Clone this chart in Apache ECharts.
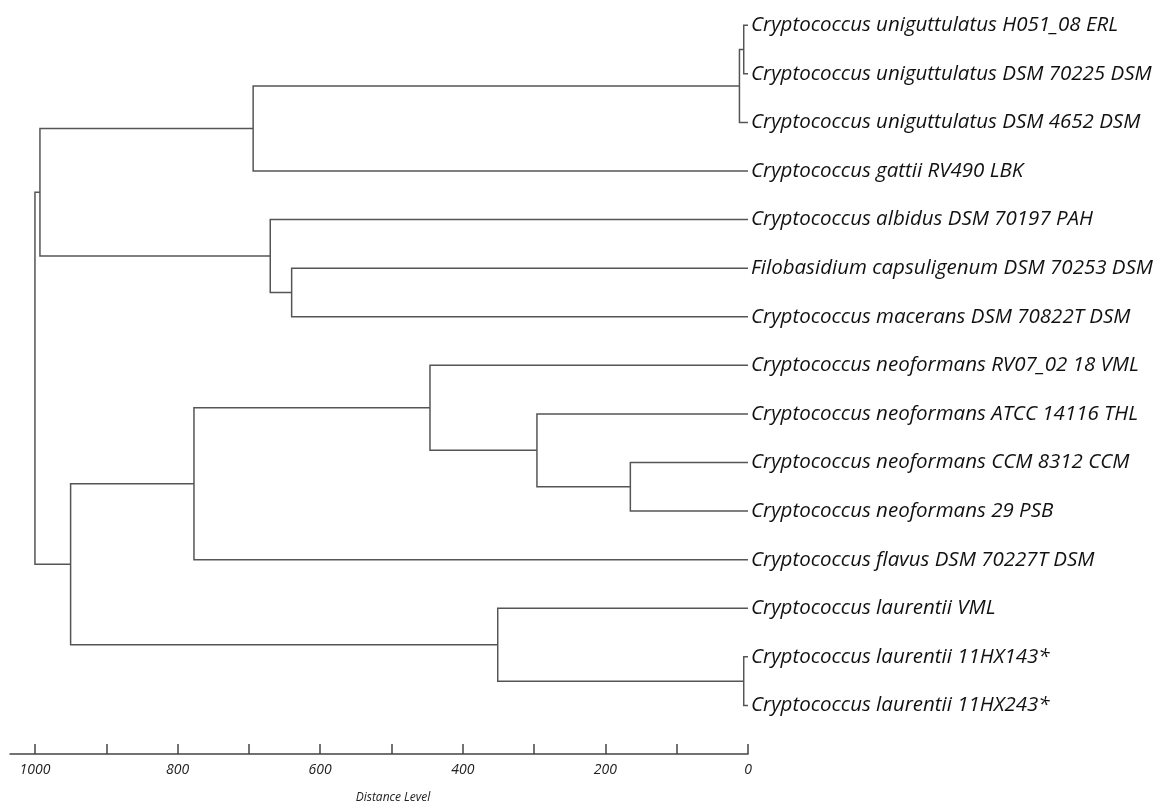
<!DOCTYPE html>
<html>
<head>
<meta charset="utf-8">
<title>Dendrogram</title>
<script src="https://cdn.jsdelivr.net/npm/echarts@6/dist/echarts.min.js"></script>
<style>
    html, body { margin: 0; padding: 0; background: #fff; }
    #dendro-chart { width: 1158px; height: 805px; }
</style>
</head>
<body>
<div id="dendro-chart"></div>
<script>
// 叶子节点（自上而下）
var leaves = [
    'Cryptococcus uniguttulatus H051_08 ERL',
    'Cryptococcus uniguttulatus DSM 70225 DSM',
    'Cryptococcus uniguttulatus DSM 4652 DSM',
    'Cryptococcus gattii RV490 LBK',
    'Cryptococcus albidus DSM 70197 PAH',
    'Filobasidium capsuligenum DSM 70253 DSM',
    'Cryptococcus macerans DSM 70822T DSM',
    'Cryptococcus neoformans RV07_02 18 VML',
    'Cryptococcus neoformans ATCC 14116 THL',
    'Cryptococcus neoformans CCM 8312 CCM',
    'Cryptococcus neoformans 29 PSB',
    'Cryptococcus flavus DSM 70227T DSM',
    'Cryptococcus laurentii VML',
    'Cryptococcus laurentii 11HX143*',
    'Cryptococcus laurentii 11HX243*'
];

// 合并步骤: 节点 15 起依次编号
var mergeA = [0, 15, 16, 5, 4, 17, 9, 8, 7, 23, 13, 12, 24, 20];
var mergeB = [1, 2, 3, 6, 18, 19, 10, 21, 22, 11, 14, 25, 26, 27];
var mergeHeight = [6, 12, 694, 640, 670, 993, 165, 296, 446, 777, 6, 351, 950, 1000];

// 坐标轴刻度
var tickValues = [0, 100, 200, 300, 400, 500, 600, 700, 800, 900, 1000];
var labelValues = [0, 200, 400, 600, 800, 1000];

window.onload = function () {
    draw_dendrogram();
}

function build_segments() {
    // 每个节点的位置 (高度, 行)
    var nodeH = [];
    var nodeY = [];
    for (var i = 0; i < leaves.length; i++) {
        nodeH.push(0);
        nodeY.push(i);
    }
    var segs = [];
    for (var m = 0; m < mergeA.length; m++) {
        var a = mergeA[m], b = mergeB[m], h = mergeHeight[m];
        segs.push({
            coords: [[nodeH[a], nodeY[a]], [h, nodeY[a]], [h, nodeY[b]], [nodeH[b], nodeY[b]]]
        });
        nodeH.push(h);
        nodeY.push((nodeY[a] + nodeY[b]) / 2);
    }
    return segs;
}

function draw_dendrogram() {
    var myChart = echarts.init(document.getElementById('dendro-chart'));
    var rows = [];
    for (var i = 0; i < leaves.length; i++) rows.push(i);

    option = {
        animation: false,
        grid: {
            left: 10,
            right: 410,
            top: 1,
            bottom: 51,
            outerBoundsMode: 'none'
        },
        xAxis: {
            type: 'value',
            inverse: true,
            position: 'bottom',
            min: 0,
            max: 1035,
            splitLine: { show: false },
            axisLine: { onZero: false, lineStyle: { color: '#444', width: 1.5 } },
            axisTick: {
                inside: true,
                length: 10,
                customValues: tickValues,
                lineStyle: { color: '#444', width: 1.5 }
            },
            axisLabel: {
                customValues: labelValues,
                margin: 9,
                color: '#222',
                fontFamily: 'Open Sans',
                fontStyle: 'italic',
                fontSize: 14,
                formatter: function (v) {
                    return String(v);
                }
            },
            name: 'Distance Level',
            nameLocation: 'middle',
            nameGap: 38,
            nameTextStyle: {
                color: '#222',
                fontFamily: 'Open Sans',
                fontStyle: 'italic',
                fontSize: 12,
                padding: [0, 0, 0, 28]
            }
        },
        yAxis: {
            type: 'value',
            inverse: true,
            position: 'right',
            min: -0.5,
            max: 15,
            splitLine: { show: false },
            axisLine: { show: false },
            axisTick: { show: false },
            axisLabel: {
                customValues: rows,
                margin: 3,
                align: 'left',
                color: '#111',
                fontFamily: 'Open Sans',
                fontStyle: 'italic',
                fontSize: 20.5,
                formatter: function (v) {
                    return leaves[v];
                }
            }
        },
        series: [
            {
                type: 'lines',
                coordinateSystem: 'cartesian2d',
                polyline: true,
                silent: true,
                lineStyle: { color: '#555', width: 1.5, opacity: 1 },
                data: build_segments()
            }
        ]
    };
    myChart.setOption(option);
}
</script>
</body>
</html>
